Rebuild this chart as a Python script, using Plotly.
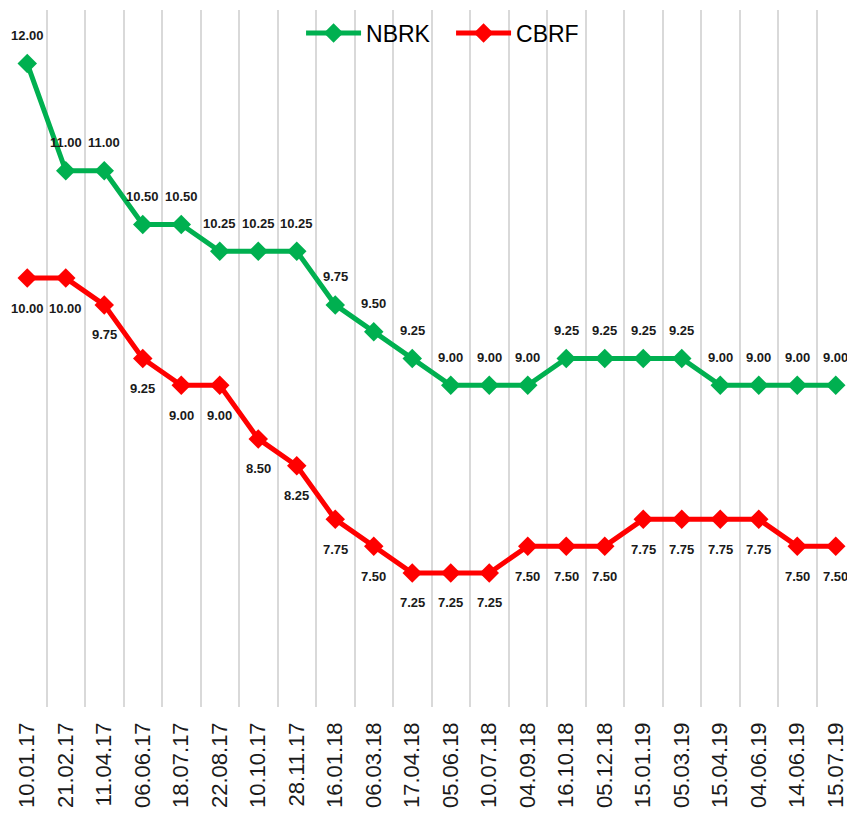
import plotly.graph_objects as go

dates = ["10.01.17", "21.02.17", "11.04.17", "06.06.17", "18.07.17", "22.08.17",
         "10.10.17", "28.11.17", "16.01.18", "06.03.18", "17.04.18", "05.06.18",
         "10.07.18", "04.09.18", "16.10.18", "05.12.18", "15.01.19", "05.03.19",
         "15.04.19", "04.06.19", "14.06.19", "15.07.19"]
nbrk = [12.00, 11.00, 11.00, 10.50, 10.50, 10.25, 10.25, 10.25, 9.75, 9.50, 9.25,
        9.00, 9.00, 9.00, 9.25, 9.25, 9.25, 9.25, 9.00, 9.00, 9.00, 9.00]
cbrf = [10.00, 10.00, 9.75, 9.25, 9.00, 9.00, 8.50, 8.25, 7.75, 7.50, 7.25,
        7.25, 7.25, 7.50, 7.50, 7.50, 7.75, 7.75, 7.75, 7.75, 7.50, 7.50]

GREEN = "#00B050"
RED = "#FF0000"
FONT = "Liberation Sans, Arial, sans-serif"

fig = go.Figure()
fig.add_trace(go.Scatter(x=dates, y=nbrk, name="NBRK", mode="lines+markers",
                         line=dict(color=GREEN, width=5),
                         marker=dict(symbol="diamond", size=15, color=GREEN)))
fig.add_trace(go.Scatter(x=dates, y=cbrf, name="CBRF", mode="lines+markers",
                         line=dict(color=RED, width=5),
                         marker=dict(symbol="diamond", size=15, color=RED)))

label_font = dict(family=FONT, size=13, color="#1a1a1a")
annotations = []
for d, v in zip(dates, nbrk):
    annotations.append(dict(x=d, y=v, text="<b>%.2f</b>" % v, showarrow=False,
                            yshift=28, font=label_font))
for d, v in zip(dates, cbrf):
    annotations.append(dict(x=d, y=v, text="<b>%.2f</b>" % v, showarrow=False,
                            yshift=-30, font=label_font))

# page body has an 8px margin, so the figure is sized to fill the rest of the window
fig.update_layout(
    width=847, height=807,
    margin=dict(l=0, r=0, t=2, b=108),
    paper_bgcolor="white", plot_bgcolor="white",
    showlegend=True,
    legend=dict(orientation="h", x=0.346, xanchor="left", y=0.967, yanchor="middle",
                font=dict(family=FONT, size=23, color="#000000"),
                bgcolor="rgba(0,0,0,0)", itemwidth=55,
                entrywidth=80, entrywidthmode="pixels"),
    xaxis=dict(type="category", tickson="boundaries", showgrid=True,
               gridcolor="#D9D9D9", gridwidth=1.5, showline=False, zeroline=False,
               ticks="", tickangle=-90, range=[-0.5, 21.5], automargin=False,
               ticklabelstandoff=10,
               tickfont=dict(family=FONT, size=22, color="#1a1a1a")),
    yaxis=dict(range=[6, 12.5], showgrid=False, showticklabels=False, zeroline=False,
               showline=False, ticks="", automargin=False),
    annotations=annotations,
)

fig.write_html("out.html")
